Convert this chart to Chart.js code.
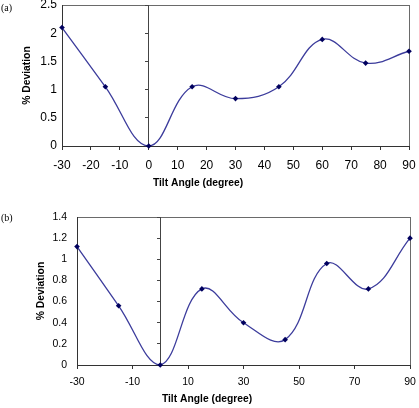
<!DOCTYPE html>
<html>
<head>
<meta charset="utf-8">
<script src="https://cdn.jsdelivr.net/npm/chart.js@4.4.1/dist/chart.umd.min.js"></script>
<style>
  html, body { margin: 0; padding: 0; background: #fff; }
  #wrap { position: relative; width: 419px; height: 408px; overflow: hidden; }
  canvas { position: absolute; left: 0; }
  #ca { top: 0; }
  #cb { top: 200px; }
</style>
</head>
<body>
<div id="wrap">
  <canvas id="ca" width="419" height="200" style="width:419px;height:200px"></canvas>
  <canvas id="cb" width="419" height="208" style="width:419px;height:208px"></canvas>
</div>
<script>
// ---- data ----
const angles = [-30, -15, 0, 15, 30, 45, 60, 75, 90];
const deviationA = [2.1, 1.05, 0, 1.05, 0.84, 1.05, 1.89, 1.47, 1.68];
const deviationB = [1.12, 0.56, 0, 0.72, 0.40, 0.24, 0.96, 0.72, 1.20];
const panelLabels = ['(a)', '(b)'];
const xTitle = 'Tilt Angle (degree)';
const yTitle = '% Deviation';

const LINE = '#3c3c9c';
const MARK = '#00005e';

function zeroPad(s) { s.paddingTop = 0; s.paddingBottom = 0; s.paddingLeft = 0; s.paddingRight = 0; }

function makeChart(canvasId, values, cfg) {
  const titles = {
    id: 'titles',
    beforeDraw(chart) {
      const ctx = chart.ctx, a = chart.chartArea;
      ctx.save();
      ctx.strokeStyle = '#6a6a6a';
      ctx.lineWidth = 1;
      ctx.strokeRect(Math.round(a.left) + 0.5, Math.round(a.top) + 0.5,
                     Math.round(a.right - a.left), Math.round(a.bottom - a.top));
      ctx.restore();
    },
    afterDraw(chart) {
      const ctx = chart.ctx, a = chart.chartArea;
      ctx.save();
      ctx.fillStyle = '#000';
      ctx.textAlign = 'center';
      ctx.textBaseline = 'middle';
      ctx.font = 'bold ' + cfg.titleSize + 'px "Liberation Sans", Arial, sans-serif';
      ctx.fillText(xTitle, cfg.xTitleX, cfg.xTitleY);
      ctx.translate(cfg.yTitleX, (a.top + a.bottom) / 2);
      ctx.rotate(-Math.PI / 2);
      ctx.fillText(yTitle, 0, 0);
      ctx.restore();
      ctx.save();
      ctx.fillStyle = '#000';
      ctx.textAlign = 'left';
      ctx.textBaseline = 'middle';
      ctx.font = '10px "Liberation Serif", "Times New Roman", serif';
      ctx.fillText(cfg.panel, 1, cfg.panelY);
      ctx.restore();
    }
  };
  const tickFont = { family: '"Liberation Sans", Arial, sans-serif', size: cfg.tickSize };
  return new Chart(document.getElementById(canvasId), {
    type: 'line',
    data: {
      datasets: [{
        data: angles.map((x, i) => ({ x: x, y: values[i] })),
        borderColor: LINE,
        borderWidth: 1.3,
        tension: 0.4,
        pointStyle: 'rectRot',
        pointRadius: 2.8,
        pointBackgroundColor: MARK,
        pointBorderColor: MARK,
        pointBorderWidth: 0,
        fill: false,
        clip: false
      }]
    },
    options: {
      responsive: false,
      devicePixelRatio: 1,
      animation: false,
      layout: { padding: cfg.padding },
      plugins: { legend: { display: false }, tooltip: { enabled: false } },
      scales: {
        x: {
          type: 'linear',
          min: -30, max: 90,
          ticks: { stepSize: cfg.xStep, color: '#000', font: tickFont, padding: cfg.xTickPad, maxRotation: 0 },
          grid: {
            drawOnChartArea: true,
            drawTicks: true,
            tickLength: 4,
            tickColor: '#333',
            color: ctx => (ctx.tick && ctx.tick.value === 0 ? '#444' : 'rgba(0,0,0,0)'),
            lineWidth: 1
          },
          border: { display: true, color: '#333', width: 1 },
          afterFit: s => { s.height = cfg.xHeight; zeroPad(s); }
        },
        y: {
          position: 'left',
          min: 0, max: cfg.yMax,
          ticks: {
            stepSize: cfg.yStep, color: '#000', font: tickFont, padding: cfg.yTickPad,
            callback: v => String(Math.round(v * 10) / 10)
          },
          grid: { display: true, drawOnChartArea: false, drawTicks: false },
          border: { display: true, color: '#333', width: 1 },
          afterFit: s => { s.width = cfg.yWidth; zeroPad(s); }
        },
        yz: {
          position: { x: 0 },
          min: 0, max: cfg.yMax,
          ticks: { display: false, stepSize: cfg.yStep },
          grid: { display: true, drawOnChartArea: false, drawTicks: true, tickLength: 3, tickColor: '#444' },
          border: { display: true, color: '#444', width: 1 },
          afterFit: s => { zeroPad(s); }
        }
      }
    },
    plugins: [titles]
  });
}

makeChart('ca', deviationA, {
  panel: panelLabels[0], panelY: 8,
  yMax: 2.5, yStep: 0.5, xStep: 10,
  tickSize: 12, titleSize: 10.3,
  padding: { top: 5, right: 10, left: 0, bottom: 0 },
  yWidth: 62, xHeight: 54, xTickPad: 8, yTickPad: 5,
  xTitleX: 198, xTitleY: 183, yTitleX: 27.5
});
makeChart('cb', deviationB, {
  panel: panelLabels[1], panelY: 18,
  yMax: 1.4, yStep: 0.2, xStep: 20,
  tickSize: 10.5, titleSize: 10.3,
  padding: { top: 17, right: 9, left: 0, bottom: 0 },
  yWidth: 77, xHeight: 43, xTickPad: 7, yTickPad: 10,
  xTitleX: 207, xTitleY: 199, yTitleX: 41
});
</script>
</body>
</html>
